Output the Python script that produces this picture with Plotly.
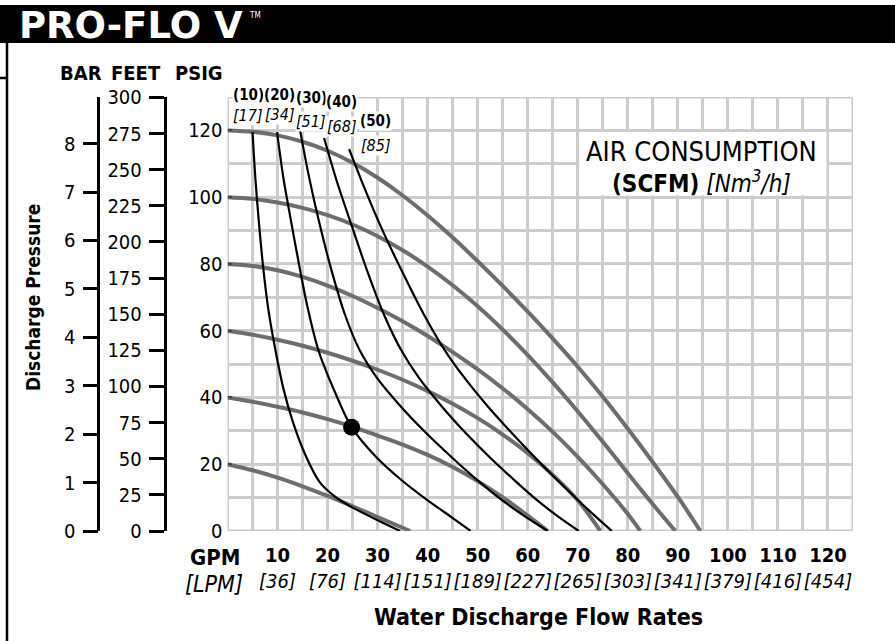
import plotly.graph_objects as go

NARROW = "Liberation Sans Narrow, Arial Narrow, DejaVu Sans Condensed, sans-serif"
LOGO = "DejaVu Sans, sans-serif"
GRID = "#cccccc"
GRAY = "#6d6d6d"

# ---- pump performance at constant air inlet pressure (GPM vs discharge PSIG)
gpm_120 = [0, 5, 10, 15, 20, 25, 30, 35, 40, 45, 50, 55, 60, 65, 70, 75, 80, 85, 90, 94.5]
psig_120 = [120, 119.6, 118.5, 116.6, 113.9, 110.3, 105.8, 100.5, 94.5, 87.9, 80.8, 73.4, 65.7, 57.6, 49.2, 40.2, 30.6, 20.6, 10.2, 0]

gpm_100 = [0, 5, 10, 15, 20, 25, 30, 35, 40, 45, 50, 55, 60, 65, 70, 75, 80, 85, 89.5]
psig_100 = [100, 99.5, 98.4, 96.8, 94.6, 91.8, 88.3, 84.1, 79.2, 73.6, 67.3, 60.3, 52.7, 44.5, 35.8, 26.7, 17.3, 8.0, 0]

gpm_80 = [0, 5, 10, 15, 20, 25, 30, 35, 40, 45, 50, 55, 60, 65, 70, 75, 80, 82.5]
psig_80 = [80, 79.4, 78.1, 76.1, 73.5, 70.4, 66.8, 62.8, 58.4, 53.6, 48.4, 42.7, 36.5, 29.7, 22.2, 14.0, 5.1, 0]

gpm_60 = [0, 5, 10, 15, 20, 25, 30, 35, 40, 45, 50, 55, 60, 65, 70, 74.5]
psig_60 = [60, 58.8, 57.3, 55.5, 53.4, 51.0, 48.3, 45.3, 41.9, 38.1, 33.8, 28.9, 23.3, 16.8, 9.2, 0]

gpm_40 = [0, 5, 10, 15, 20, 25, 30, 35, 40, 45, 50, 55, 60, 64]
psig_40 = [40, 38.7, 37.2, 35.5, 33.5, 31.2, 28.6, 25.9, 22.8, 19.2, 14.95, 10.1, 4.6, 0]

gpm_20 = [0, 5, 10, 15, 20, 25, 30, 36.5]
psig_20 = [20, 18.2, 16.0, 13.4, 10.5, 7.4, 4.2, 0]

# ---- constant air consumption lines (SCFM)
scfm_labels = [10, 20, 30, 40, 50]
nm3h_labels = [17, 34, 51, 68, 85]

c10_gpm = [5, 5.6, 6.3, 7.2, 8.2, 9.6, 11.2, 13, 15.5, 18.5, 21.5, 25, 29.5, 34.5]
c10_psig = [119.5, 105, 92, 78, 66, 54, 42.5, 33, 23, 14.5, 10.3, 7.0, 3.6, 0]

c20_gpm = [9.9, 11.2, 12.8, 14.4, 16, 18.2, 21.5, 24.8, 29.8, 34.8, 39.8, 44.8, 48.6]
c20_psig = [119.5, 105.5, 92, 79, 67, 54, 41.5, 31.1, 22, 15.2, 9.4, 4.1, 0]

c30_gpm = [14.5, 16.3, 18.4, 20.8, 23.5, 26.4, 29.8, 34.8, 39.8, 44.8, 49.8, 54.8, 59.5, 64]
c30_psig = [120, 106, 92, 78, 64.7, 54.2, 46, 37, 29.2, 22.1, 15.4, 9.3, 4.3, 0]

c40_gpm = [19.3, 21.8, 24.7, 27.9, 31.3, 34.7, 38.2, 43.0, 47.7, 52.4, 57.2, 61.8, 66.1, 70.2]
c40_psig = [117.7, 105, 92, 78, 64.7, 54.2, 46, 37, 29.2, 22.1, 15.4, 9.3, 4.3, 0]

c50_gpm = [24.3, 27.3, 30.4, 34.8, 39.3, 43.4, 47.3, 52.2, 56.9, 61.4, 65.8, 70.0, 73.6, 76.8]
c50_psig = [114.4, 103, 92, 78, 64.7, 54.2, 46, 37, 29.2, 22.1, 15.4, 9.3, 4.3, 0]

# caption positions: flow (GPM) and vertical pixel row
scfm_label_gpm = [4.1, 10.3, 16.7, 22.7, 29.5]
scfm_label_row = [95, 95, 98, 102, 121]
nm3h_label_gpm = [4.0, 10.5, 16.7, 22.9, 29.7]
nm3h_label_row = [115.5, 114, 121, 126, 145]

# example operating point
point_gpm = [24.8]
point_psig = [31.1]

# axis ticks
gpm_ticks = [10, 20, 30, 40, 50, 60, 70, 80, 90, 100, 110, 120]
lpm_ticks = [36, 76, 114, 151, 189, 227, 265, 303, 341, 379, 416, 454]
PSI_PER_BAR = 14.5038
FT_PER_PSI = 2.31
X_MAX = 125
Y_MAX = 130

fig = go.Figure()

perf = [(gpm_120, psig_120), (gpm_100, psig_100), (gpm_80, psig_80),
        (gpm_60, psig_60), (gpm_40, psig_40), (gpm_20, psig_20)]
for gx, gy in perf:
    fig.add_trace(go.Scatter(x=gx, y=gy, mode="lines",
                             line=dict(color=GRAY, width=4, shape="spline", smoothing=0.9),
                             hoverinfo="skip", showlegend=False))

air = [(c10_gpm, c10_psig), (c20_gpm, c20_psig), (c30_gpm, c30_psig),
       (c40_gpm, c40_psig), (c50_gpm, c50_psig)]
for ax_, ay_ in air:
    fig.add_trace(go.Scatter(x=ax_, y=ay_, mode="lines",
                             line=dict(color="black", width=2.2, shape="spline", smoothing=0.9),
                             hoverinfo="skip", showlegend=False))

fig.add_trace(go.Scatter(x=point_gpm, y=point_psig, mode="markers",
                         marker=dict(color="black", size=17),
                         hoverinfo="skip", showlegend=False))

# carrier traces for the BAR and FEET scales
fig.add_trace(go.Scatter(x=[None], y=[None], yaxis="y2", showlegend=False, hoverinfo="skip"))
fig.add_trace(go.Scatter(x=[None], y=[None], yaxis="y3", showlegend=False, hoverinfo="skip"))

# plotting area in pixels: x 0..853, y 97..531
PW = 853.0
TOP, BOT = 97.0, 531.0


def px_x(p):
    return p / PW


def px_y(p):
    return (BOT - p) / (BOT - TOP)


ticktext = [f"<b>{g}</b><br><i>[{l}]</i>" for g, l in zip(gpm_ticks, lpm_ticks)]

fig.update_layout(
    width=895, height=641,
    margin=dict(l=0, r=895 - PW, t=TOP, b=641 - BOT, pad=0),
    paper_bgcolor="white", plot_bgcolor="white",
    showlegend=False,
    font=dict(family=NARROW, color="black"),
    xaxis=dict(
        domain=[227.5 / PW, 1], range=[0, X_MAX],
        tickmode="array", tickvals=gpm_ticks, ticktext=ticktext, tickangle=0,
        tickfont=dict(family=NARROW, size=20, color="black"),
        showgrid=True, gridcolor=GRID, gridwidth=3,
        minor=dict(tickmode="linear", tick0=0, dtick=5, showgrid=True,
                   gridcolor=GRID, gridwidth=3, ticks=""),
        ticks="", zeroline=False, showline=False, fixedrange=True,
        ticklabelstandoff=10,
    ),
    yaxis=dict(
        range=[0, Y_MAX], tickmode="linear", tick0=0, dtick=20,
        tickfont=dict(family=NARROW, size=20, color="black"),
        showgrid=True, gridcolor=GRID, gridwidth=3,
        minor=dict(tickmode="linear", tick0=0, dtick=10, showgrid=True,
                   gridcolor=GRID, gridwidth=3, ticks=""),
        ticks="inside", ticklen=4, tickwidth=2, tickcolor="#444444",
        zeroline=False, showline=False, fixedrange=True,
        ticklabelstandoff=4,
    ),
    yaxis2=dict(
        overlaying="y", anchor="free", position=98.3 / PW, side="left",
        range=[0, Y_MAX / PSI_PER_BAR], tickmode="linear", tick0=0, dtick=1,
        tickfont=dict(family=NARROW, size=20, color="black"),
        showgrid=False, zeroline=False, showline=True, linecolor="black", linewidth=2.5,
        ticks="outside", ticklen=15, tickwidth=2.5, tickcolor="black", fixedrange=True,
        ticklabelstandoff=3,
    ),
    yaxis3=dict(
        overlaying="y", anchor="free", position=164.5 / PW, side="left",
        range=[0, Y_MAX * FT_PER_PSI], tickmode="linear", tick0=0, dtick=25,
        tickfont=dict(family=NARROW, size=20, color="black"),
        showgrid=False, zeroline=False, showline=True, linecolor="black", linewidth=2.5,
        ticks="outside", ticklen=15, tickwidth=2.5, tickcolor="black", fixedrange=True,
        ticklabelstandoff=3,
    ),
)

shapes = [
    # chart frame
    dict(type="rect", xref="x", yref="y", x0=0, x1=X_MAX, y0=0, y1=Y_MAX,
         line=dict(color=GRID, width=3), layer="below"),
    # blank panel behind the air consumption caption
    dict(type="rect", xref="x", yref="y", x0=70.3, x1=119.7, y0=100.5, y1=119.5,
         fillcolor="white", line=dict(width=0), layer="above"),
    # header band
    dict(type="rect", xref="paper", yref="paper", x0=0, x1=895 / PW,
         y0=px_y(43), y1=px_y(5), fillcolor="black", line=dict(width=0)),
    # page rule on the left
    dict(type="line", xref="paper", yref="paper", x0=px_x(7), x1=px_x(7),
         y0=px_y(43), y1=px_y(641), line=dict(color="black", width=2.5)),
    dict(type="line", xref="paper", yref="paper", x0=0, x1=px_x(7),
         y0=px_y(78), y1=px_y(78), line=dict(color="black", width=2.5)),
]
fig.update_layout(shapes=shapes)

ann = []
# header logo
ann.append(dict(text="<b>PRO-FLO V</b>", xref="paper", yref="paper", x=px_x(17), y=px_y(25),
                xanchor="left", yanchor="middle", showarrow=False,
                font=dict(family=LOGO, size=37, color="white")))
ann.append(dict(text="TM", xref="paper", yref="paper", x=px_x(247), y=px_y(15),
                xanchor="left", yanchor="middle", showarrow=False,
                font=dict(family=NARROW, size=8, color="white")))

# scale headers
for label, cx in (("BAR", 81), ("FEET", 136), ("PSIG", 199)):
    ann.append(dict(text=f"<b>{label}</b>", xref="paper", yref="paper", x=px_x(cx), y=px_y(73),
                    xanchor="center", yanchor="middle", showarrow=False,
                    font=dict(family=NARROW, size=20, color="black")))

ann.append(dict(text="<b>Discharge Pressure</b>", xref="paper", yref="paper",
                x=px_x(33), y=px_y(298), textangle=-90, xanchor="center", yanchor="middle",
                showarrow=False, font=dict(family=NARROW, size=19, color="black")))

ann.append(dict(text="<b>GPM</b>", xref="paper", yref="paper", x=px_x(214.5), y=px_y(557),
                xanchor="center", yanchor="middle", showarrow=False,
                font=dict(family=NARROW, size=22, color="black")))
ann.append(dict(text="<i>[LPM]</i>", xref="paper", yref="paper", x=px_x(214), y=px_y(584),
                xanchor="center", yanchor="middle", showarrow=False,
                font=dict(family=NARROW, size=23, color="black")))
ann.append(dict(text="<b>Water Discharge Flow Rates</b>", xref="paper", yref="paper",
                x=px_x(538.5), y=px_y(617), xanchor="center", yanchor="middle", showarrow=False,
                font=dict(family=NARROW, size=23, color="black")))

ann.append(dict(text="AIR CONSUMPTION", xref="paper", yref="paper", x=px_x(701.7), y=px_y(151),
                xanchor="center", yanchor="middle", showarrow=False,
                font=dict(family=NARROW, size=27, color="black")))
ann.append(dict(text="<b>(SCFM)</b> <i>[Nm<sup>3</sup>/h]</i>", xref="paper", yref="paper",
                x=px_x(701), y=px_y(182), xanchor="center", yanchor="middle", showarrow=False,
                font=dict(family=NARROW, size=24, color="black")))

for s, gx, row in zip(scfm_labels, scfm_label_gpm, scfm_label_row):
    ann.append(dict(text=f"<b>({s})</b>", x=gx, y=px_y(row), xref="x", yref="paper",
                    xanchor="center", yanchor="middle", showarrow=False, bgcolor="white",
                    borderpad=0, font=dict(family=NARROW, size=15, color="black")))
for n, gx, row in zip(nm3h_labels, nm3h_label_gpm, nm3h_label_row):
    ann.append(dict(text=f"<i>[{n}]</i>", x=gx, y=px_y(row), xref="x", yref="paper",
                    xanchor="center", yanchor="middle", showarrow=False, bgcolor="white",
                    borderpad=0, font=dict(family=NARROW, size=16, color="black")))

fig.update_layout(annotations=ann)

fig.write_html("out.html")
